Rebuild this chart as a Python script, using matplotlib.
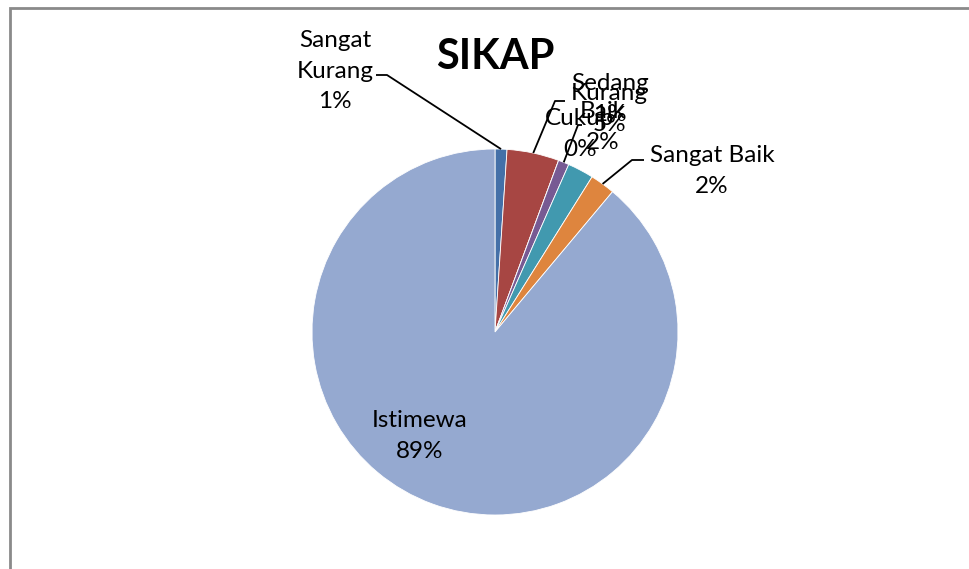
import matplotlib
matplotlib.use("Agg")
import matplotlib.pyplot as plt
import numpy as np
from matplotlib.patches import Rectangle

categories = ["Sangat\nKurang", "Kurang", "Cukup", "Sedang", "Baik", "Sangat Baik", "Istimewa"]
values = [1.05, 4.6, 0.0, 0.95, 2.3, 2.2, 88.9]
colors = ["#4470A8", "#A74643", "#8BAA52", "#775A93", "#4199AF", "#DE853E", "#95A9D0"]
title = "SIKAP"

# label text positions (pixel coords, y from top) and leader elbow points
label_pos = {
    "Sangat\nKurang": (335, 71),
    "Kurang": (609, 109),
    "Cukup": (580, 134),
    "Sedang": (610, 99),
    "Baik": (603, 127),
    "Sangat Baik": (712, 171),
    "Istimewa": (420, 436),
}
leaders = {
    "Sangat\nKurang": [(376, 75), (387, 75)],
    "Kurang": [(565, 101), (555, 101)],
    "Sedang": [(582, 125), (578, 125)],
    "Sangat Baik": [(644, 160), (632, 160)],
}

plt.rcParams['font.family'] = ['Lato', 'DejaVu Sans']
W, H = 970, 569
fig = plt.figure(figsize=(W / 100, H / 100), dpi=100)
ax = fig.add_axes([0, 0, 1, 1])

cx, cy, r = 495, H - 332, 183
wedges, _ = ax.pie(values, colors=colors, startangle=90, counterclock=False,
                   center=(cx, cy), radius=r, frame=True,
                   wedgeprops=dict(edgecolor="white", linewidth=0.6))
ax.set_xlim(0, W)
ax.set_ylim(0, H)
ax.axis("off")

total = sum(values)
for w, cat, v in zip(wedges, categories, values):
    pct = f"{round(v / total * 100):.0f}%"
    x, y = label_pos[cat]
    ax.text(x, H - y, f"{cat}\n{pct}", ha="center", va="center", fontsize=17.5,
            linespacing=1.58, color="black", zorder=5)
    if cat in leaders:
        mid = np.deg2rad((w.theta1 + w.theta2) / 2)
        ex, ey = cx + r * np.cos(mid), cy + r * np.sin(mid)
        pts = [(px, H - py) for px, py in leaders[cat]] + [(ex, ey)]
        xs, ys = zip(*pts)
        ax.plot(xs, ys, color="black", lw=1.3, zorder=4, solid_capstyle="butt")

ax.text(495, H - 57, title, ha="center", va="center", fontsize=30,
        fontweight="bold", color="black")

ax.add_patch(Rectangle((10, -5), W, H - 8 + 5, fill=False, edgecolor="#8a8a8a",
                       lw=2, clip_on=False))

fig.savefig("out.png", dpi=100, facecolor="white")
